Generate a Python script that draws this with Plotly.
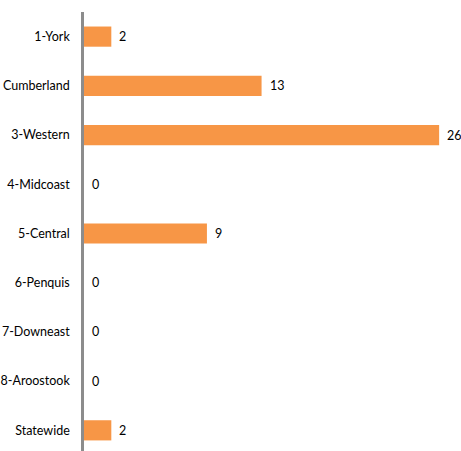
import plotly.graph_objects as go

# Regions and counts
regions = ["1-York", "Cumberland", "3-Western", "4-Midcoast", "5-Central",
           "6-Penquis", "7-Downeast", "8-Aroostook", "Statewide"]
counts = [2, 13, 26, 0, 9, 0, 0, 0, 2]

bar_color = "#F79646"
font_family = "Lato, 'Open Sans', Arial, sans-serif"

fig = go.Figure()
fig.add_trace(go.Bar(
    x=counts,
    y=regions,
    orientation="h",
    marker=dict(color=bar_color, line=dict(width=0)),
    hoverinfo="x+y",
))

# Value labels placed just past the end of each bar
for r, v in zip(regions, counts):
    fig.add_annotation(
        x=v, y=r, text=str(v), showarrow=False,
        xanchor="left", yanchor="middle", xshift=6,
        font=dict(family=font_family, size=12.5, color="#000000"),
    )

fig.update_layout(
    width=461, height=451,
    margin=dict(l=84, r=0, t=12, b=0),
    paper_bgcolor="white", plot_bgcolor="white",
    bargap=0.59,
    showlegend=False,
    xaxis=dict(range=[0, 27.6], visible=False, fixedrange=True),
    yaxis=dict(
        type="category",
        categoryorder="array", categoryarray=regions,
        range=[8.42, -0.5],
        showline=True, linecolor="#8C8C8C", linewidth=2.5,
        showgrid=False, zeroline=False,
        ticks="", ticklabelstandoff=9,
        tickfont=dict(family=font_family, size=12.5, color="#000000"),
        automargin=False,
    ),
)

fig.write_html("out.html")
